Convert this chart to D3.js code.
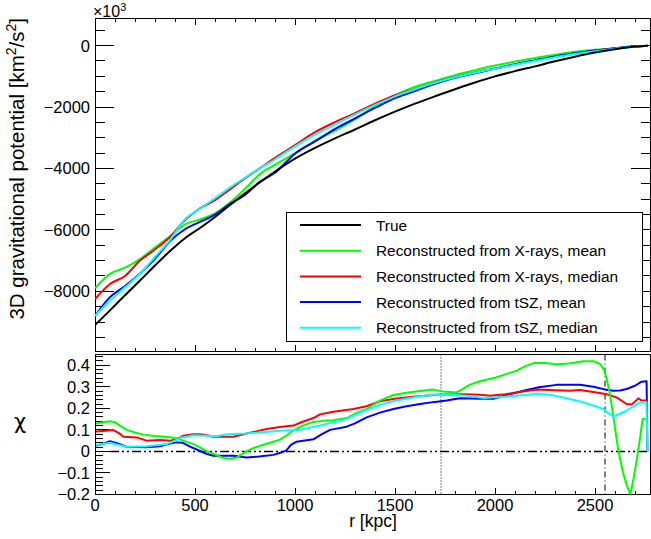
<!DOCTYPE html>
<html><head><meta charset="utf-8">
<script src="https://cdn.jsdelivr.net/npm/d3@7/dist/d3.min.js"></script>
<style>body{margin:0;background:#fff}svg{display:block;font-family:"Liberation Sans",Arial,Helvetica,sans-serif}</style>
</head><body><svg id="c" width="651" height="539"></svg>
<script>
// ---------- data ----------
const rTop = [0,75,150,225,300,375,450,525,600,675,750,825,900,1000,1100,1200,1300,1400,1500,1600,1700,1800,1900,2000,2100,2200,2300,2400,2500,2600,2700,2765];
const potTrue  = [-9100,-8620,-8130,-7650,-7160,-6690,-6270,-5940,-5580,-5190,-4810,-4450,-4100,-3680,-3330,-3020,-2730,-2430,-2150,-1890,-1650,-1420,-1200,-1000,-830,-675,-510,-360,-225,-115,-30,0];
const potXMean = [-7900,-7430,-7230,-6950,-6570,-6210,-5820,-5660,-5460,-5110,-4660,-4180,-3880,-3500,-3100,-2770,-2400,-1980,-1620,-1340,-1150,-960,-800,-650,-520,-400,-300,-200,-135,-98,-35,-5];
const potXMed  = [-8250,-7760,-7500,-7000,-6640,-6230,-5680,-5300,-5030,-4680,-4320,-3990,-3650,-3240,-2820,-2490,-2200,-1890,-1610,-1410,-1200,-1020,-870,-740,-610,-480,-365,-260,-165,-85,-25,0];
const potSZMean= [-8800,-8190,-7830,-7420,-6940,-6370,-5980,-5740,-5500,-5150,-4860,-4430,-4140,-3520,-3120,-2710,-2370,-2030,-1710,-1480,-1245,-1050,-900,-755,-605,-480,-352,-248,-158,-83,-21,0];
const potSZMed = [-8800,-8300,-7870,-7430,-6880,-6330,-5650,-5310,-4970,-4620,-4300,-3990,-3700,-3280,-2900,-2570,-2240,-1930,-1650,-1420,-1210,-1030,-880,-750,-620,-500,-380,-275,-180,-97,-25,0];

const chiXMean = [[5,0.13],[40,0.135],[75,0.14],[100,0.135],[158,0.10],[200,0.088],[242,0.078],[300,0.072],[350,0.068],[392,0.064],[442,0.05],[490,0.035],[525,0.019],[560,0.0],[592,-0.011],[640,-0.03],[675,-0.035],[708,-0.028],[730,-0.015],[758,0.0],[790,0.015],[825,0.026],[875,0.04],[925,0.055],[960,0.075],[992,0.098],[1040,0.12],[1092,0.137],[1150,0.143],[1192,0.145],[1258,0.155],[1300,0.175],[1358,0.197],[1425,0.236],[1492,0.262],[1558,0.272],[1625,0.28],[1692,0.287],[1740,0.278],[1775,0.276],[1808,0.274],[1840,0.29],[1875,0.31],[1925,0.326],[2000,0.342],[2058,0.36],[2108,0.375],[2150,0.395],[2192,0.41],[2250,0.41],[2308,0.405],[2370,0.408],[2442,0.419],[2492,0.419],[2525,0.406],[2545,0.38],[2560,0.33],[2575,0.267],[2592,0.158],[2617,0.003],[2642,-0.105],[2660,-0.16],[2677,-0.2],[2692,-0.13],[2708,-0.043],[2725,0.06],[2738,0.15],[2752,0.15]];
const chiXMed = [[5,0.092],[40,0.095],[92,0.099],[120,0.085],[142,0.068],[208,0.065],[258,0.05],[325,0.053],[380,0.05],[420,0.062],[442,0.073],[492,0.08],[525,0.08],[560,0.075],[592,0.068],[692,0.068],[758,0.083],[800,0.092],[858,0.104],[925,0.113],[992,0.12],[1025,0.133],[1092,0.155],[1125,0.172],[1192,0.184],[1292,0.197],[1358,0.21],[1425,0.233],[1500,0.245],[1592,0.254],[1725,0.264],[1850,0.265],[1925,0.263],[1975,0.259],[2050,0.265],[2108,0.274],[2208,0.287],[2300,0.284],[2375,0.282],[2425,0.285],[2508,0.274],[2560,0.265],[2608,0.251],[2658,0.22],[2683,0.218],[2705,0.235],[2717,0.247],[2733,0.236],[2762,0.236]];
const chiSZMean = [[5,0.027],[40,0.035],[75,0.047],[110,0.038],[158,0.022],[258,0.019],[325,0.024],[370,0.035],[408,0.042],[440,0.04],[470,0.025],[525,0.002],[560,-0.012],[592,-0.02],[692,-0.02],[758,-0.028],[820,-0.024],[892,-0.016],[935,-0.004],[958,0.006],[980,0.03],[1008,0.045],[1058,0.052],[1092,0.056],[1130,0.078],[1175,0.1],[1258,0.115],[1300,0.13],[1358,0.158],[1425,0.18],[1492,0.197],[1558,0.21],[1625,0.22],[1700,0.23],[1758,0.236],[1825,0.247],[1925,0.245],[1992,0.244],[2060,0.262],[2142,0.282],[2220,0.298],[2308,0.309],[2425,0.31],[2492,0.3],[2550,0.288],[2592,0.282],[2625,0.283],[2658,0.29],[2700,0.305],[2733,0.324],[2758,0.326],[2762,0.0]];
const chiSZMed = [[5,0.03],[40,0.035],[75,0.04],[110,0.032],[158,0.022],[258,0.024],[358,0.034],[400,0.05],[425,0.062],[492,0.075],[560,0.073],[608,0.07],[658,0.08],[750,0.083],[825,0.088],[925,0.096],[1025,0.1],[1125,0.12],[1190,0.135],[1258,0.151],[1325,0.18],[1425,0.216],[1500,0.235],[1592,0.25],[1692,0.264],[1780,0.263],[1858,0.259],[1942,0.248],[2020,0.252],[2108,0.259],[2208,0.267],[2275,0.263],[2325,0.254],[2442,0.228],[2542,0.197],[2570,0.175],[2592,0.163],[2625,0.175],[2658,0.19],[2725,0.228],[2758,0.228],[2762,0.0]];

const seriesNames = ["True","Reconstructed from X-rays, mean","Reconstructed from X-rays, median","Reconstructed from tSZ, mean","Reconstructed from tSZ, median"];
const seriesColors = ["#000000","#00ff00","#ff0000","#0000ff","#00ffff"];
const rZeroLine = [75, 2762];
const rDotted = 1730;
const rDashDot = 2550;

// ---------- layout ----------
const svg = d3.select("#c");
const L = 95, R = 650;
const topT = 18, topB = 351.5, botT = 354.5, botB = 494.5;
const x = d3.scaleLinear().domain([0, 2775]).range([L, R]);
const yT = d3.scaleLinear().domain([-9960, 900]).range([topB, topT]);
const yB = d3.scaleLinear().domain([-0.2, 0.45]).range([botB, botT]);

svg.append("defs").append("clipPath").attr("id","clipT").append("rect").attr("x",L).attr("y",topT).attr("width",R-L).attr("height",topB-topT);
svg.select("defs").append("clipPath").attr("id","clipB").append("rect").attr("x",L).attr("y",botT).attr("width",R-L).attr("height",botB-botT);

function ticks(g, scale, vals, len, orient, pos){
  vals.forEach(v=>{
    const p = scale(v);
    if (orient==="left") g.append("line").attr("x1",pos).attr("x2",pos+len).attr("y1",p).attr("y2",p);
    if (orient==="right") g.append("line").attr("x1",pos).attr("x2",pos-len).attr("y1",p).attr("y2",p);
    if (orient==="bottom") g.append("line").attr("x1",p).attr("x2",p).attr("y1",pos).attr("y2",pos-len);
    if (orient==="top") g.append("line").attr("x1",p).attr("x2",p).attr("y1",pos).attr("y2",pos+len);
  });
}
const tk = svg.append("g").attr("stroke","#000").attr("stroke-width",1).attr("shape-rendering","crispEdges");
const xMaj = d3.range(0, 2776, 500), xMin = d3.range(0, 2776, 100).filter(v=>v%500!==0);
// top panel
const yTMaj = d3.range(-8000, 1, 2000), yTMin = d3.range(-9500, 901, 500).filter(v=>v%2000!==0);
ticks(tk, yT, yTMaj, 19, "left", L); ticks(tk, yT, yTMin, 10, "left", L);
ticks(tk, yT, yTMaj, 19, "right", R); ticks(tk, yT, yTMin, 9, "right", R);
ticks(tk, x, xMaj, 7, "bottom", topB); ticks(tk, x, xMin, 4, "bottom", topB);
ticks(tk, x, xMaj, 7, "top", topT); ticks(tk, x, xMin, 4, "top", topT);
// bottom panel
const yBMaj = d3.range(-2, 5, 1).map(v=>v/10), yBMin = d3.range(-10, 23, 1).map(v=>v/50).filter(v=>Math.abs(v*10-Math.round(v*10))>1e-6);
ticks(tk, yB, yBMaj, 15, "left", L); ticks(tk, yB, yBMin, 8, "left", L);
ticks(tk, x, xMaj, 7, "bottom", botB); ticks(tk, x, xMin, 4, "bottom", botB);

// frames
svg.append("rect").attr("x",L).attr("y",topT).attr("width",R-L).attr("height",topB-topT).attr("fill","none").attr("stroke","#000").attr("shape-rendering","crispEdges");
svg.append("rect").attr("x",L).attr("y",botT).attr("width",R-L).attr("height",botB-botT).attr("fill","none").attr("stroke","#000").attr("shape-rendering","crispEdges");

// tick labels
const fs = 16.5;
const lab = svg.append("g").attr("font-size",fs).attr("fill","#000");
yTMaj.forEach(v=>lab.append("text").attr("x",L-5).attr("y",yT(v)).attr("dy","0.36em").attr("text-anchor","end").text(d3.format("d")(v).replace("-","\u2212")));
yBMaj.forEach(v=>lab.append("text").attr("x",L-5).attr("y",yB(v)).attr("dy","0.36em").attr("text-anchor","end").text(v===0?"0":d3.format(".1f")(v).replace("-","\u2212")));
xMaj.forEach(v=>lab.append("text").attr("x",x(v)).attr("y",511).attr("text-anchor","middle").text(v));
svg.append("text").attr("x",L-2).attr("y",17).attr("font-size",16).text("\u00d710").append("tspan").attr("font-size",11).attr("dy",-6).text("3");

// axis titles
const yt = svg.append("text").attr("transform",`translate(24,${topT}) rotate(-90)`).attr("text-anchor","end").attr("font-size",20.5);
yt.append("tspan").text("3D gravitational potential [km");
yt.append("tspan").attr("font-size",14).attr("dy",-8).text("2");
yt.append("tspan").attr("dy",8).text("/s");
yt.append("tspan").attr("font-size",14).attr("dy",-8).text("2");
yt.append("tspan").attr("dy",8).text("]");
svg.append("text").attr("x",20).attr("y",429).attr("text-anchor","middle").attr("font-size",21).attr("font-family","'DejaVu Sans',sans-serif").text("\u03c7");
svg.append("text").attr("x",373).attr("y",527).attr("text-anchor","middle").attr("font-size",17.5).text("r [kpc]");

// top curves
const potSeries = [potTrue, potXMean, potXMed, potSZMean, potSZMed];
const lineT = d3.line().x(d=>x(d[0])).y(d=>yT(d[1])).curve(d3.curveMonotoneX);
const gT = svg.append("g").attr("clip-path","url(#clipT)");
[1,2,3,4,0].forEach(i=>{
  gT.append("path").datum(rTop.map((r,j)=>[r, potSeries[i][j]])).attr("d",lineT).attr("fill","none").attr("stroke",seriesColors[i]).attr("stroke-width",2);
});

// bottom
const gB = svg.append("g").attr("clip-path","url(#clipB)");
gB.append("line").attr("x1",x(rZeroLine[0])).attr("x2",x(rZeroLine[1])).attr("y1",yB(0)).attr("y2",yB(0)).attr("stroke","#000").attr("stroke-width",1.5).attr("stroke-dasharray","9,3,2,3,2,3");
gB.append("line").attr("x1",x(rDotted)).attr("x2",x(rDotted)).attr("y1",botT).attr("y2",botB).attr("stroke","#000").attr("stroke-width",1).attr("stroke-dasharray","1,2");
gB.append("line").attr("x1",x(rDashDot)).attr("x2",x(rDashDot)).attr("y1",botT).attr("y2",botB).attr("stroke","#000").attr("stroke-width",1).attr("stroke-dasharray","6,3,1,3");
const lineB = d3.line().x(d=>x(d[0])).y(d=>yB(d[1]));
const chiSeries = [null, chiXMean, chiXMed, chiSZMean, chiSZMed];
[3,2,1,4].forEach(i=>{
  gB.append("path").datum(chiSeries[i]).attr("d",lineB).attr("fill","none").attr("stroke",seriesColors[i]).attr("stroke-width",2).attr("stroke-linejoin","round");
});

// legend
const lg = svg.append("g");
lg.append("rect").attr("x",286).attr("y",212).attr("width",356).attr("height",129).attr("fill","#fff").attr("stroke","#000").attr("shape-rendering","crispEdges");
seriesNames.forEach((n,i)=>{
  const yy = 225 + i*25.7;
  lg.append("line").attr("x1",300).attr("x2",361).attr("y1",yy).attr("y2",yy).attr("stroke",seriesColors[i]).attr("stroke-width",2);
  lg.append("text").attr("x",376).attr("y",yy).attr("dy","0.36em").attr("font-size",15.4).text(n);
});
</script></body></html>
